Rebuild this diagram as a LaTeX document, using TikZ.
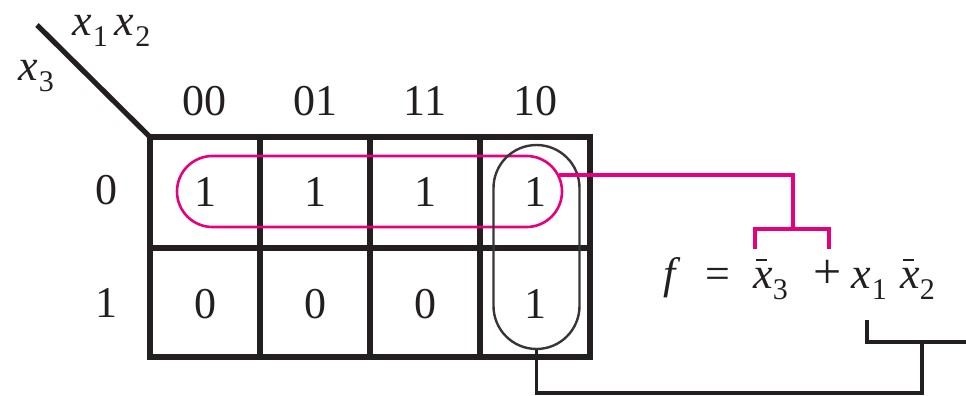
\documentclass[tikz,border=0pt]{standalone}
\usepackage{fontspec}
\setmainfont{Liberation Serif}
\usetikzlibrary{shapes.misc}
\definecolor{kmag}{RGB}{230,0,126}
\definecolor{kline}{RGB}{35,31,32}
\newcommand\vx{\textit{x}}
\newcommand\sub[1]{\raisebox{-0.27em}{\fontsize{15}{16}\selectfont #1}}
\newcommand\xbr{\leavevmode\rlap{\kern0.06em\rule[0.62em]{0.24em}{0.045em}}\textit{x}}
\newcommand\putat[2]{\makebox[0pt][l]{\kern#1pt #2}}
\tikzset{
  lbl/.style={font=\fontsize{22}{26}\selectfont, inner sep=0pt, anchor=base, text=kline},
  grid line/.style={line width=3.3pt, draw=kline, line cap=rect, line join=miter},
  magloop/.style={draw=kmag, line width=1.3pt, rounded rectangle, inner sep=0pt},
  blkloop/.style={draw=kline!90, line width=1.2pt, rounded rectangle, inner sep=0pt},
  magwire/.style={draw=kmag, line width=2pt},
  blkwire/.style={draw=kline, line width=1.8pt},
}
\begin{document}
\begin{tikzpicture}[x=0.5pt, y=-0.5pt]
\useasboundingbox (0,0) rectangle (966,396);
% diagonal
\coordinate (diagA) at (37,25);
\coordinate (corner) at (150,137);
\draw[line width=2.6pt, draw=kline] (diagA) -- (corner);
\node[lbl, anchor=base west] (colvars) at (72,35) {\vx\kern0.5pt\sub{1}\kern3.5pt\vx\kern0.5pt\sub{2}};
\node[lbl, anchor=base west] (rowvar) at (18,80) {\vx\kern0.5pt\sub{3}};
% grid
\draw[grid line] (150,137) rectangle (590,357);
\draw[grid line] (150,248) -- (590,248);
\foreach \gx in {260,370,480} \draw[grid line] (\gx,137) -- (\gx,357);
% headers
\node[lbl] (h00) at (205,115) {00};
\node[lbl] (h01) at (315,115) {01};
\node[lbl] (h11) at (425,115) {11};
\node[lbl] (h10) at (535,115) {10};
\node[lbl] (r0) at (107,205) {0};
\node[lbl] (r1) at (107,317) {1};
% cells
\node[lbl] (c00) at (205,206) {1};
\node[lbl] (c01) at (315,206) {1};
\node[lbl] (c11) at (425,206) {1};
\node[lbl] (c10) at (535,206) {1};
\node[lbl] (d00) at (205,318) {0};
\node[lbl] (d01) at (315,318) {0};
\node[lbl] (d11) at (425,318) {0};
\node[lbl] (d10) at (535,318) {1};
% loops
\node[magloop, minimum width=192.5pt, minimum height=35.5pt] (loopA) at (369.5,191.5) {};
\node[blkloop, rotate=90, minimum width=102pt, minimum height=43pt] (loopB) at (536.5,247) {};
% equation
\node[lbl, anchor=base west] (eq) at (663,288) {\putat{0}{\textit{f}}\putat{21}{=}\putat{45}{\xbr\sub{3}}\putat{75}{\fontsize{25}{26}\selectfont +}\putat{94}{\vx\kern0.5pt\sub{1}}\putat{118.5}{\xbr\sub{2}}\kern140pt};
% magenta wire
\coordinate (mjoin) at (793,229);
\coordinate (mbl) at (755,249);
\coordinate (mbr) at (829,249);
\draw[magwire] (loopA.5.6) -| (mjoin);
\draw[magwire] (mbl) |- (mjoin) -| (mbr);
% black wire
\coordinate (bjoin) at (922,342);
\coordinate (bbl) at (867,320);
\coordinate (bend) at (966,342);
\coordinate (bturn) at (536.5,393);
\draw[blkwire] (loopB.west) -- (bturn) -| (bjoin);
\draw[blkwire] (bbl) |- (bend);
\end{tikzpicture}
\end{document}
